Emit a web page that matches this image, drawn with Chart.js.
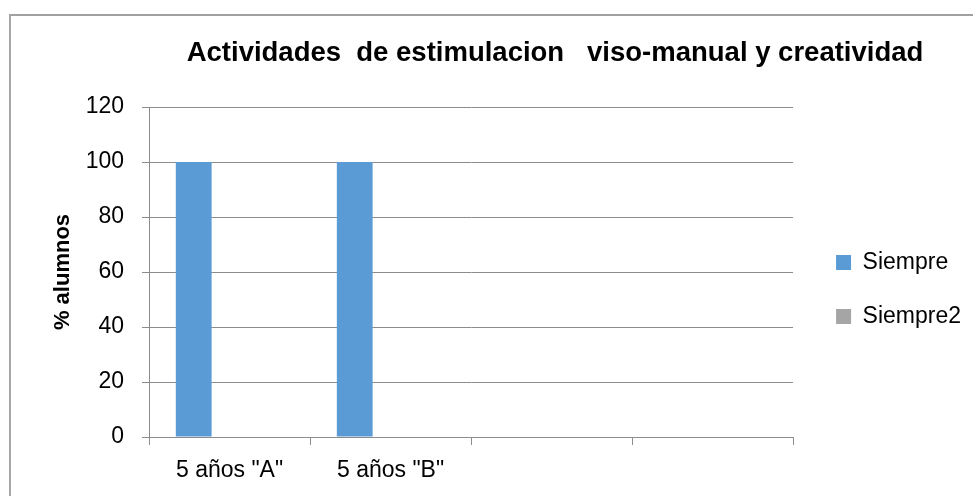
<!DOCTYPE html>
<html>
<head>
<meta charset="utf-8">
<script src="https://cdn.jsdelivr.net/npm/chart.js@4"></script>
<style>
  html, body { margin: 0; padding: 0; background: #fff; overflow: hidden; }
  #frame {
    position: absolute; left: 9px; top: 14px; width: 1000px; height: 600px;
    border-left: 2px solid #a6a6a6; border-top: 2px solid #a0a0a0;
  }
  #wrap { position: absolute; left: 0; top: 0; width: 973px; height: 496px; }
</style>
</head>
<body>
<div id="frame"></div>
<div id="wrap"><canvas id="chart" width="973" height="496"></canvas></div>
<script>
const chartTitle = 'Actividades  de estimulacion   viso-manual y creatividad';
const categories = ['5 años "A"', '5 años "B"', '', ''];
const siempre = [100, 100, null, null];
const serie2 = [null, null, null, null];
const siempre2 = [null, null, null, null];
const yTitle = '% alumnos';

const fontFamily = '"Liberation Sans", Arial, sans-serif';
const gridColor = '#8c8c8c';

// title drawn at a fixed spot, as in the original (not centered on the canvas)
const titlePlugin = {
    id: 'fixedTitle',
    afterLayout(chart) {
        // nudge legend a bit right and up
        const lg = chart.legend;
        lg.left += 12; lg.right += 12;
        lg.top -= 12; lg.bottom -= 12;
    },
    afterDraw(chart) {
        const c = chart.ctx;
        c.save();
        c.font = 'bold 27.5px ' + fontFamily;
        c.fillStyle = '#000';
        c.textAlign = 'center';
        c.textBaseline = 'alphabetic';
        c.fillText(chartTitle, 555, 61);
        c.restore();
    }
};

const ctx = document.getElementById('chart').getContext('2d');
new Chart(ctx, {
    type: 'bar',
    data: {
        labels: categories,
        datasets: [
            { label: 'Siempre', data: siempre, backgroundColor: '#5B9BD5' },
            { label: '', data: serie2, backgroundColor: '#ED7D31' },
            { label: 'Siempre2', data: siempre2, backgroundColor: '#A5A5A5' }
        ]
    },
    options: {
        responsive: false,
        animation: false,
        layout: { padding: { top: 107, right: 14, left: 0, bottom: 0 } },
        datasets: {
            bar: { categoryPercentage: 0.667, barPercentage: 1.0 }
        },
        plugins: {
            title: { display: false },
            tooltip: { enabled: false },
            legend: {
                position: 'right',
                align: 'center',
                labels: {
                    filter: item => item.text !== '',
                    color: '#000',
                    font: { family: fontFamily, size: 23 },
                    boxWidth: 15,
                    boxHeight: 15,
                    padding: 31
                }
            }
        },
        scales: {
            x: {
                grid: {
                    display: true,
                    offset: true,
                    drawOnChartArea: false,
                    drawTicks: true,
                    tickLength: 8,
                    color: gridColor
                },
                border: { color: gridColor, width: 1 },
                ticks: {
                    color: '#000',
                    font: { family: fontFamily, size: 23 },
                    padding: 12,
                    maxRotation: 0,
                    autoSkip: false
                },
                afterFit(scale) { scale.height = 59; }
            },
            y: {
                min: 0,
                max: 120,
                ticks: {
                    stepSize: 20,
                    color: '#000',
                    font: { family: fontFamily, size: 23 },
                    padding: 18
                },
                grid: { color: gridColor, tickLength: 7 },
                border: { color: gridColor, width: 1 },
                title: {
                    display: true,
                    text: yTitle,
                    color: '#000',
                    font: { family: fontFamily, size: 22, weight: 'bold' },
                    padding: { top: 50, bottom: 0 }
                },
                afterFit(scale) { scale.width = 149; }
            }
        }
    },
    plugins: [titlePlugin]
});
</script>
</body>
</html>
